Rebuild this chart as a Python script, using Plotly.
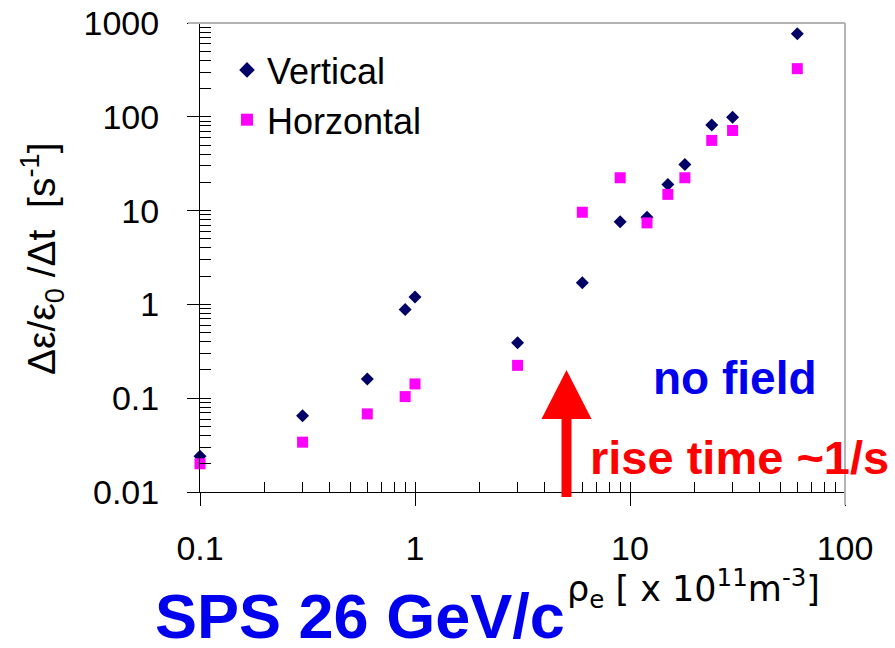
import plotly.graph_objects as go

# ---- data ----
vert_x = [0.1, 0.3, 0.6, 0.9, 1.0, 3.0, 6.0, 9.0, 12.0, 15.0, 18.0, 24.0, 30.0, 60.0]
vert_y = [0.024, 0.065, 0.16, 0.88, 1.2, 0.39, 1.7, 7.6, 8.5, 19.0, 31.0, 82.0, 99.0, 770.0]

horz_x = [0.1, 0.3, 0.6, 0.9, 1.0, 3.0, 6.0, 9.0, 12.0, 15.0, 18.0, 24.0, 30.0, 60.0]
horz_y = [0.020, 0.034, 0.068, 0.104, 0.142, 0.224, 9.6, 22.4, 7.4, 14.9, 22.4, 56.0, 71.5, 326.0]

x_tick_vals = [0.1, 1, 10, 100]
x_tick_text = ["0.1", "1", "10", "100"]
y_tick_vals = [0.01, 0.1, 1, 10, 100, 1000]
y_tick_text = ["0.01", "0.1", "1", "10", "100", "1000"]

minor_digits = [2, 3, 4, 5, 6, 7, 8, 9]
x_minor = [d * 10.0 ** e for e in (-1, 0, 1) for d in minor_digits]
y_minor = [d * 10.0 ** e for e in (-2, -1, 0, 1, 2) for d in minor_digits]

FONT = "Liberation Sans, Arial, sans-serif"

# plot-area pixel geometry (for paper-coordinate decorations)
L, R, T, B = 200, 845, 23, 492
def px(x):
    return (x - L) / (R - L)
def py(y):
    return (B - y) / (B - T)

fig = go.Figure()
fig.add_trace(go.Scatter(
    x=vert_x, y=vert_y, mode="markers", name="Vertical",
    marker=dict(symbol="diamond", size=10, color="#000066"),
    cliponaxis=False, legendgroup="v"))
fig.add_trace(go.Scatter(
    x=horz_x, y=horz_y, mode="markers", name="Horzontal",
    marker=dict(symbol="square", size=11, color="#FF00FF"),
    cliponaxis=False, legendgroup="h"))
# empty trace to register the overlay axes (inward halves of major ticks)
fig.add_trace(go.Scatter(x=[], y=[], xaxis="x2", yaxis="y2", showlegend=False))

axis_common = dict(type="log", showgrid=False, zeroline=False, automargin=False)

fig.update_layout(
    width=895, height=648,
    margin=dict(l=L, r=895 - R, t=T, b=648 - B, autoexpand=False),
    plot_bgcolor="white", paper_bgcolor="white",
    font=dict(family=FONT, color="black"),
    xaxis=dict(**axis_common, range=[-1, 2],
               showline=True, linecolor="black", linewidth=1,
               tickmode="array", tickvals=x_tick_vals, ticktext=x_tick_text,
               ticks="outside", ticklen=13, tickcolor="black", tickwidth=1,
               tickfont=dict(size=34, family=FONT),
               ticklabelstandoff=13,
               minor=dict(tickmode="array", tickvals=x_minor, ticks="inside",
                          ticklen=10, tickcolor="black", tickwidth=1)),
    yaxis=dict(**axis_common, range=[-2, 3],
               showline=True, linecolor="black", linewidth=1,
               tickmode="array", tickvals=y_tick_vals, ticktext=y_tick_text,
               ticks="outside", ticklen=12, tickcolor="black", tickwidth=1,
               tickfont=dict(size=34, family=FONT),
               ticklabelstandoff=21,
               minor=dict(tickmode="array", tickvals=y_minor, ticks="inside",
                          ticklen=11, tickcolor="black", tickwidth=1)),
    xaxis2=dict(**axis_common, range=[-1, 2], overlaying="x", anchor="y2",
                tickmode="array", tickvals=x_tick_vals, ticks="inside",
                ticklen=10, tickcolor="black", showticklabels=False, showline=False),
    yaxis2=dict(**axis_common, range=[-2, 3], overlaying="y", anchor="x2",
                tickmode="array", tickvals=y_tick_vals, ticks="inside",
                ticklen=11, tickcolor="black", showticklabels=False, showline=False),
    showlegend=True,
    legend=dict(x=px(227), y=py(40), xanchor="left", yanchor="top",
                font=dict(size=36, family=FONT), bgcolor="rgba(0,0,0,0)",
                tracegroupgap=0, itemsizing="constant"),
)

# gray frame (top and right)
fig.add_shape(type="line", xref="paper", yref="paper",
              x0=px(188), x1=1, y0=1, y1=1, line=dict(color="#b4b4b4", width=2))
fig.add_shape(type="line", xref="paper", yref="paper",
              x0=1, x1=1, y0=1, y1=py(505), line=dict(color="#b4b4b4", width=2))

# red arrow
fig.add_shape(type="rect", xref="paper", yref="paper",
              x0=px(561.5), x1=px(571.5), y0=py(497), y1=py(418),
              fillcolor="#FF0000", line=dict(width=0))
fig.add_shape(type="path", xref="paper", yref="paper",
              path=f"M {px(541.5)},{py(419)} L {px(591.5)},{py(419)} L {px(566.5)},{py(370)} Z",
              fillcolor="#FF0000", line=dict(width=0))

ann = dict(xref="paper", yref="paper", showarrow=False, xanchor="center", yanchor="middle")

# axis titles
fig.add_annotation(text="Δε/ε<sub>0</sub> /Δt  [s<sup>-1</sup>]", textangle=-90,
                   x=px(42), y=py(259), font=dict(size=39, family=FONT, color="black"), **ann)
fig.add_annotation(text="ρ<sub>e</sub> [ x 10<sup>11</sup>m<sup>-3</sup>]",
                   x=px(693), y=py(588),
                   font=dict(size=35, family="DejaVu Sans, sans-serif", color="black"), **ann)

# text labels
fig.add_annotation(text="<b>no field</b>", x=px(735), y=py(378),
                   font=dict(size=46, family=FONT, color="#0000EE"), **ann)
fig.add_annotation(text="<b>rise time ~1/s</b>", x=px(739), y=py(457),
                   font=dict(size=47, family=FONT, color="#FF0000"), **ann)
fig.add_annotation(text="<b>SPS 26 GeV/c</b>", x=px(360), y=py(616),
                   font=dict(size=63, family=FONT, color="#0000EE"), **ann)

fig.write_html("out.html")
